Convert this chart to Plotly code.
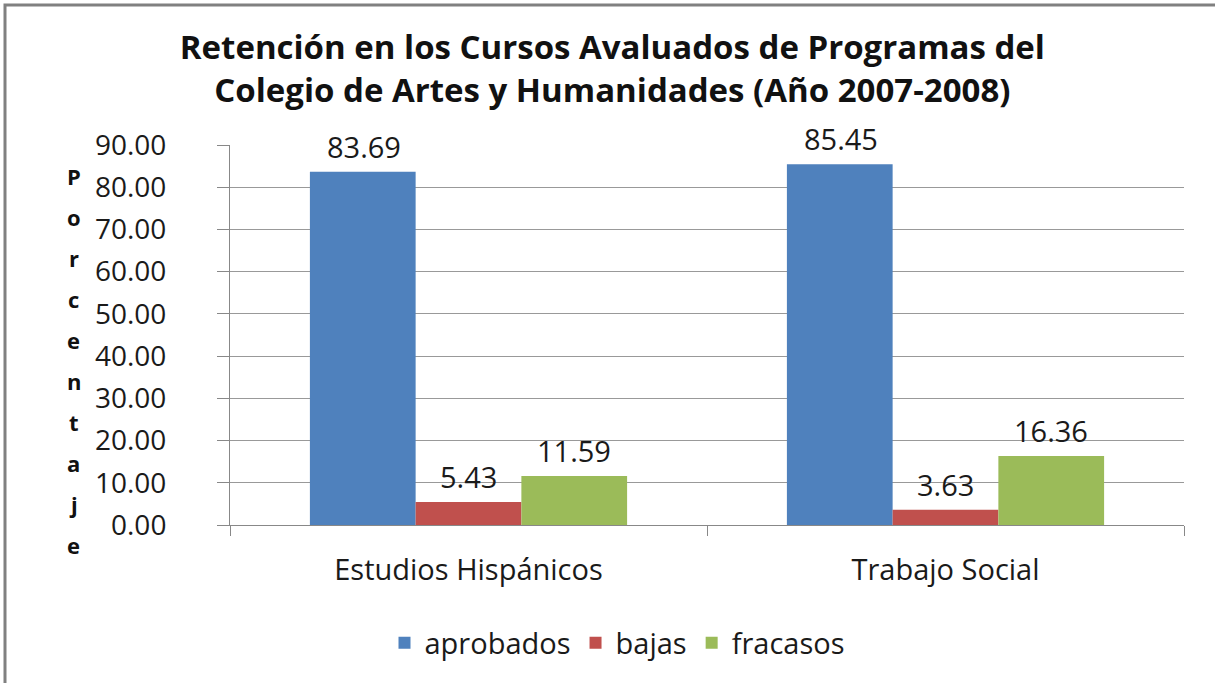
import plotly.graph_objects as go

categories = ["Estudios Hispánicos", "Trabajo Social"]
series_names = ["aprobados", "bajas", "fracasos"]
aprobados = [83.69, 85.45]
bajas = [5.43, 3.63]
fracasos = [11.59, 16.36]
y_ticks = [0, 10, 20, 30, 40, 50, 60, 70, 80, 90]
y_title = "Porcentaje"
title_lines = ["Retención en los Cursos Avaluados de Programas del",
               "Colegio de Artes y Humanidades (Año 2007-2008)"]

colors = ["#4F81BD", "#C0504D", "#9BBB59"]
values = [aprobados, bajas, fracasos]
FONT = "Open Sans"
TXT = "#1a1a1a"

fig = go.Figure()
for name, vals, col in zip(series_names, values, colors):
    fig.add_trace(go.Bar(x=categories, y=vals, name=name, marker=dict(color=col, line=dict(width=0))))

# data labels
bar_px = 105
for i, vals in enumerate(values):
    for c, v in zip(categories, vals):
        fig.add_annotation(x=c, y=v, text=f"{v:.2f}", showarrow=False, xref="x", yref="y",
                           xanchor="center", yanchor="bottom", xshift=(i - 1) * bar_px, yshift=4,
                           font=dict(family=FONT, size=29, color=TXT))

# vertical stacked y-axis title
for k, ch in enumerate(y_title):
    fig.add_annotation(x=-0.164, y=(525 - 176 - k * 41) / 380, xref="paper", yref="paper",
                       text=f"<b>{ch}</b>", showarrow=False, xanchor="center", yanchor="middle",
                       font=dict(family=FONT, size=22, color="#111"))

# outer frame
fig.add_shape(type="rect", xref="paper", yref="paper",
              x0=(5 - 230) / 954, x1=(1240 - 230) / 954, y0=(525 - 720) / 380, y1=(525 - 5) / 380,
              line=dict(color="#808080", width=3), fillcolor="rgba(0,0,0,0)", layer="below")

fig.update_layout(
    width=1215, height=683,
    margin=dict(l=230, r=31, t=145, b=158, autoexpand=False),
    paper_bgcolor="white", plot_bgcolor="white",
    title=dict(text="<b>" + "<br>".join(title_lines) + "</b>", x=0.504, xanchor="center",
               y=0.913, yanchor="middle", font=dict(family=FONT, size=33, color="#111")),
    barmode="group", bargap=0.335, bargroupgap=0,
    legend=dict(orientation="h", x=(617 - 230) / 954, xanchor="center", y=-0.31, yanchor="middle",
                font=dict(family=FONT, size=29, color=TXT), itemwidth=30, traceorder="normal"),
    xaxis=dict(showline=True, linecolor="#888", linewidth=1, ticks="outside", tickson="boundaries",
               ticklen=10, tickcolor="#888", ticklabelstandoff=19, automargin=False, tickangle=0,
               tickfont=dict(family=FONT, size=29, color=TXT)),
    yaxis=dict(range=[0, 90], tickvals=y_ticks, tickformat=".2f", showgrid=True, gridcolor="#999",
               gridwidth=1, showline=True, linecolor="#888", linewidth=1, ticks="outside",
               ticklen=12, tickcolor="#888", ticklabelstandoff=45, zeroline=False, automargin=False,
               tickfont=dict(family=FONT, size=28, color=TXT)),
)

fig.write_html("out.html", config={"displayModeBar": False},
               post_script="document.body.style.margin='0';")
